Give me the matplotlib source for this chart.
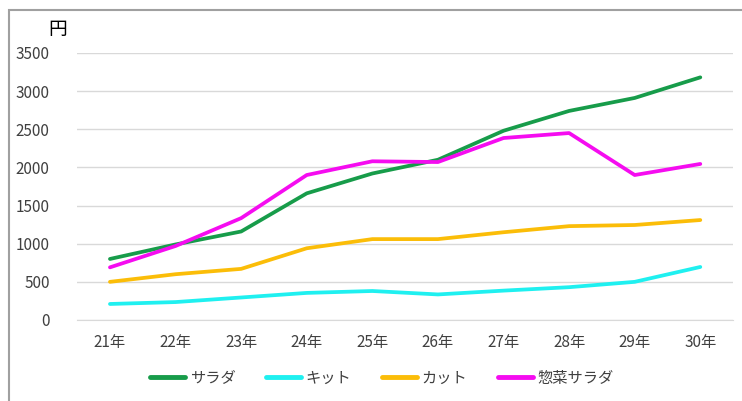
import matplotlib.pyplot as plt
from matplotlib.patches import Rectangle

plt.rcParams['font.family'] = ['Noto Sans CJK JP', 'DejaVu Sans']

years = ['21年', '22年', '23年', '24年', '25年', '26年', '27年', '28年', '29年', '30年']
salad = [800, 990, 1160, 1660, 1920, 2100, 2480, 2740, 2910, 3180]
kit = [210, 235, 295, 355, 380, 335, 385, 430, 500, 695]
cut = [500, 600, 670, 940, 1060, 1060, 1150, 1230, 1245, 1310]
sozai = [690, 970, 1335, 1900, 2080, 2070, 2385, 2450, 1900, 2045]

series = [
    ('サラダ', salad, '#179c4a'),
    ('キット', kit, '#1ff0f0'),
    ('カット', cut, '#fbbd08'),
    ('惣菜サラダ', sozai, '#f50cf0'),
]

fig = plt.figure(figsize=(7.42, 4.01), dpi=100)
# frame around the chart (only top and left visible in the crop)
fig.patches.append(Rectangle((8.5 / 742, -0.1), 1.2, 1 - 9.5 / 401 + 0.1,
                             transform=fig.transFigure, fill=False,
                             edgecolor='#a0a0a0', linewidth=1.5))

ax = fig.add_axes([0.104, 0.202, 0.884, 0.666])
x = range(len(years))
for name, vals, color in series:
    ax.plot(x, vals, color=color, linewidth=2.7, label=name,
            solid_capstyle='round', solid_joinstyle='round')

ax.set_xlim(-0.5, len(years) - 0.5)
ax.set_ylim(0, 3500)
ax.set_yticks(range(0, 3501, 500))
ax.set_xticks(list(x))
ax.set_xticklabels(years)
ax.yaxis.grid(True, color='#d9d9d9', linewidth=1)
ax.set_axisbelow(True)
for side in ['top', 'right', 'left']:
    ax.spines[side].set_visible(False)
ax.spines['bottom'].set_color('#d9d9d9')
ax.tick_params(axis='both', length=0, labelsize=11, colors='#404040')
ax.tick_params(axis='y', pad=16)
ax.tick_params(axis='x', pad=10)
for lbl in ax.get_yticklabels():
    lbl.set_x(-0.008)

fig.text(58 / 742, 1 - 30 / 401, '円', fontsize=13.5, color='black',
         ha='center', va='center')

ax.legend(loc='center', bbox_to_anchor=(382 / 742, 1 - 378 / 401),
          bbox_transform=fig.transFigure, ncol=4, frameon=False,
          fontsize=11, handlelength=2.3, handletextpad=0.3,
          columnspacing=2.0, labelcolor='#404040')
for line in ax.get_legend().get_lines():
    line.set_linewidth(3.5)

fig.savefig('out.png', dpi=100)
